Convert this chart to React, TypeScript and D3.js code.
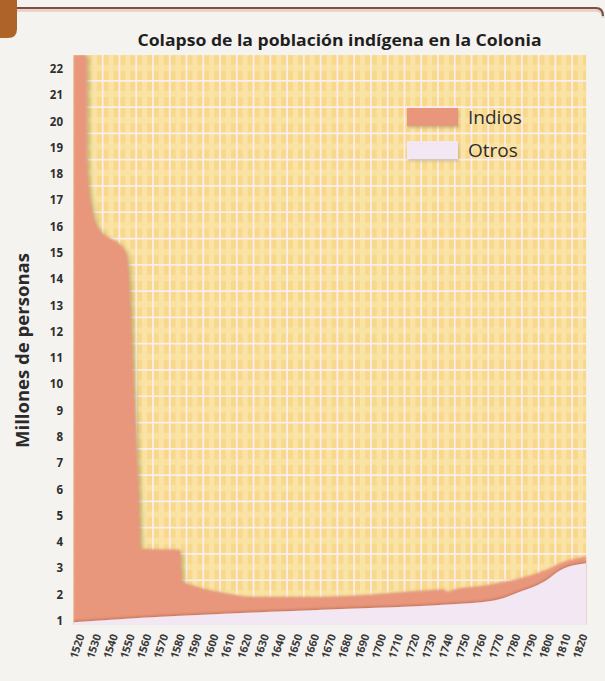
import React from "react";
import * as d3 from "d3";

// ---------- data ----------
const chartTitle = "Colapso de la población indígena en la Colonia";
const yAxisTitle = "Millones de personas";
const legendLabels = ["Indios", "Otros"];

const xTickLabels = [
  "1520", "1530", "1540", "1550", "1560", "1570", "1580", "1590", "1600", "1610",
  "1620", "1630", "1640", "1650", "1660", "1670", "1680", "1690", "1700", "1710",
  "1720", "1730", "1740", "1750", "1760", "1770", "1780", "1790", "1800", "1810", "1820",
];
const yTickValues = [1, 2, 3, 4, 5, 6, 7, 8, 9, 10, 11, 12, 13, 14, 15, 16, 17, 18, 19, 20, 21, 22];

const indiosYears = [
  1519, 1527, 1527.2, 1528, 1529.5, 1531.5, 1535, 1541, 1548.5, 1550.5, 1552, 1555, 1558, 1559.3,
  1582.6, 1584, 1589, 1606, 1626, 1656, 1696, 1726, 1740, 1742, 1746, 1765, 1785, 1801, 1809, 1825,
];
const indiosValues = [
  22.53, 22.53, 18.5, 17.6, 16.9, 16.3, 15.85, 15.55, 15.2, 15.0, 14.3, 10.0, 5.8, 3.75,
  3.7, 2.5, 2.37, 2.1, 1.91, 1.91, 2.0, 2.15, 2.2, 2.1, 2.2, 2.35, 2.62, 2.94, 3.19, 3.45,
];

const otrosYears = [1519, 1560, 1600, 1650, 1700, 1740, 1770, 1785, 1800, 1810, 1825];
const otrosValues = [0.95, 1.12, 1.25, 1.38, 1.5, 1.62, 1.78, 2.1, 2.5, 2.95, 3.2];

// ---------- layout ----------
const W = 605;
const H = 681;
const yearMin = 1519;
const yearMax = 1825;
const valBase = 0.85;
const valTop = 22.53;

const FONT = "'Open Sans', 'Noto Sans', sans-serif";

export default function App() {
  const x = d3.scaleLinear().domain([1520, 1820]).range([75, 578]);
  const y = d3.scaleLinear().domain([1, 22]).range([621, 69]);

  const px0 = x(yearMin);
  const px1 = x(yearMax);
  const py0 = y(valTop);
  const py1 = y(valBase);

  const area = d3
    .area<[number, number]>()
    .x((d) => x(d[0]))
    .y0(py1)
    .y1((d) => y(d[1]))
    .curve(d3.curveMonotoneX);

  const indiosPts: [number, number][] = indiosYears.map((yr, i) => [yr, indiosValues[i]]);
  const otrosPts: [number, number][] = otrosYears.map((yr, i) => [yr, otrosValues[i]]);

  // plaid grid
  const vLines = d3.range(1526.5, yearMax, 10);
  const vBands = d3.range(1521.5, yearMax, 10);
  const hLines = d3.range(1.55, valTop, 1);
  const hBands = d3.range(1.05, valTop, 1);

  return (
    <div style={{ position: "absolute", left: 0, top: 0 }}>
      <svg width={W} height={H} style={{ display: "block", background: "#F5F3F0" }}>
        <defs>
          <clipPath id="plotClip">
            <rect x={px0} y={py0} width={px1 - px0} height={py1 - py0} />
          </clipPath>
          <filter id="softShadow" x="-10%" y="-10%" width="120%" height="120%">
            <feGaussianBlur in="SourceAlpha" stdDeviation="2.4" result="blur" />
            <feOffset in="blur" dx="1.5" dy="1.5" result="off" />
            <feFlood floodColor="#6c7a3c" floodOpacity="0.5" />
            <feComposite in2="off" operator="in" result="shadow" />
            <feGaussianBlur in="SourceGraphic" stdDeviation="0.9" result="soft" />
            <feMerge>
              <feMergeNode in="shadow" />
              <feMergeNode in="soft" />
            </feMerge>
          </filter>
          <filter id="upShadow" x="-10%" y="-20%" width="120%" height="140%">
            <feGaussianBlur in="SourceAlpha" stdDeviation="1.6" result="blur" />
            <feOffset in="blur" dx="0" dy="-1.5" result="off" />
            <feFlood floodColor="#8a3f25" floodOpacity="0.45" />
            <feComposite in2="off" operator="in" result="shadow" />
            <feMerge>
              <feMergeNode in="shadow" />
              <feMergeNode in="SourceGraphic" />
            </feMerge>
          </filter>
          <filter id="legendShadow" x="-20%" y="-30%" width="140%" height="170%">
            <feGaussianBlur in="SourceAlpha" stdDeviation="1.5" result="blur" />
            <feOffset in="blur" dx="1" dy="2" result="off" />
            <feFlood floodColor="#7a6a40" floodOpacity="0.35" />
            <feComposite in2="off" operator="in" result="shadow" />
            <feMerge>
              <feMergeNode in="shadow" />
              <feMergeNode in="SourceGraphic" />
            </feMerge>
          </filter>
        </defs>

        {/* top decoration */}
        <path d="M0,0 H17 V29 Q17,38 8,38 H0 Z" fill="#AE6429" />
        <path d="M17,10.5 H596 Q603,10.5 603,18" fill="none" stroke="#E6CFC4" strokeWidth={2.5} />
        <path d="M17,8 H596 Q603,8 603,16" fill="none" stroke="#7E4E42" strokeWidth={2.2} />

        {/* title */}
        <text
          x={339.5}
          y={46}
          textAnchor="middle"
          fontFamily={FONT}
          fontWeight={700}
          fontSize={16.5}
          fill="#1f1f1f"
          textLength={404}
          lengthAdjust="spacingAndGlyphs"
        >
          {chartTitle}
        </text>

        {/* plot background */}
        <g clipPath="url(#plotClip)">
          <rect x={px0} y={py0} width={px1 - px0} height={py1 - py0} fill="#F8D98C" />
          {vBands.map((yr) => (
            <line key={"vb" + yr} x1={x(yr)} x2={x(yr)} y1={py0} y2={py1} stroke="#FAE3A6" strokeWidth={5} />
          ))}
          {hBands.map((v) => (
            <line key={"hb" + v} x1={px0} x2={px1} y1={y(v)} y2={y(v)} stroke="#FAE3A6" strokeWidth={6} opacity={0.8} />
          ))}
          {vLines.map((yr) => (
            <line key={"vl" + yr} x1={x(yr)} x2={x(yr)} y1={py0} y2={py1} stroke="#FCEEF0" strokeWidth={1.7} />
          ))}
          {hLines.map((v) => (
            <line key={"hl" + v} x1={px0} x2={px1} y1={y(v)} y2={y(v)} stroke="#FCEEF0" strokeWidth={1.7} />
          ))}

          {/* Indios area */}
          <path d={area(indiosPts) || ""} fill="#E9977B" filter="url(#softShadow)" />
          {/* Otros area */}
          <path d={area(otrosPts) || ""} fill="#F2E7F3" filter="url(#upShadow)" />
        </g>

        {/* legend */}
        <rect x={407} y={108} width={51} height={18} fill="#E9977B" filter="url(#legendShadow)" />
        <rect x={407} y={141} width={51} height={18} fill="#F2E7F3" filter="url(#legendShadow)" />
        <text x={468} y={124} fontFamily={FONT} fontWeight={500} fontSize={19} fill="#302d2a">
          {legendLabels[0]}
        </text>
        <text x={468} y={157} fontFamily={FONT} fontWeight={500} fontSize={19} fill="#302d2a">
          {legendLabels[1]}
        </text>

        {/* y ticks */}
        {yTickValues.map((v) => (
          <text
            key={"yt" + v}
            x={63}
            y={y(v) + 4}
            textAnchor="end"
            fontFamily={FONT}
            fontWeight={700}
            fontSize={11.5}
            fill="#2e2e2e"
          >
            {v}
          </text>
        ))}

        {/* x ticks */}
        {xTickLabels.map((lab) => {
          const cx = x(+lab) + 1.5;
          const cy = 646;
          return (
            <text
              key={"xt" + lab}
              x={cx}
              y={cy}
              textAnchor="middle"
              dominantBaseline="central"
              transform={`rotate(-72 ${cx} ${cy})`}
              fontFamily={FONT}
              fontWeight={700}
              fontSize={11}
              fill="#3a3a3a"
            >
              {lab}
            </text>
          );
        })}

        {/* y axis title */}
        <text
          x={0}
          y={0}
          transform={`translate(29,350.5) rotate(-90)`}
          textAnchor="middle"
          fontFamily={FONT}
          fontWeight={700}
          fontSize={17}
          fill="#2a2a2a"
          textLength={195}
          lengthAdjust="spacingAndGlyphs"
        >
          {yAxisTitle}
        </text>
      </svg>
    </div>
  );
}
